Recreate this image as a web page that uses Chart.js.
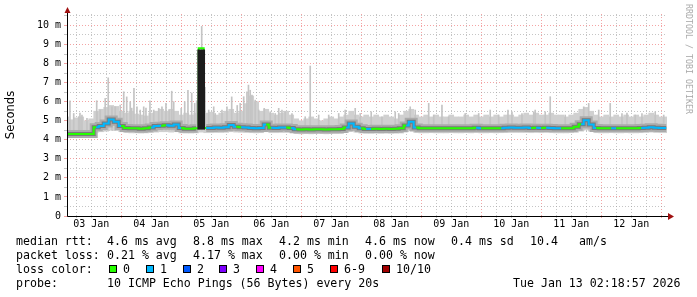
<!DOCTYPE html>
<html>
<head>
<meta charset="utf-8">
<script src="https://cdn.jsdelivr.net/npm/chart.js@4.4.1/dist/chart.umd.min.js"></script>
<style>
  body { margin: 0; background: #fff; }
  #wrap { position: relative; width: 697px; height: 297px; overflow: hidden; }
  .lg { position: absolute; font-family: 'DejaVu Sans Mono', monospace; font-size: 11.6px; line-height: 14px; color: #000; white-space: pre; }
  .box { position: absolute; width: 6px; height: 6px; border: 1px solid #000; }
  #credit { position: absolute; left: 682px; top: 4px; font-family: 'DejaVu Sans Mono', monospace; font-size: 8.3px; color: #aaa; white-space: pre; transform-origin: 0 0; transform: translate(12px, 0) rotate(90deg); }
</style>
</head>
<body>
<div id="wrap">
  <canvas id="chart" width="697" height="297"></canvas>
  <div id="credit">RRDTOOL / TOBI OETIKER</div>

  <div class="lg" style="left:16px;top:234px">median rtt:</div>
  <div class="lg" style="left:107px;top:234px">4.6 ms avg</div>
  <div class="lg" style="left:193px;top:234px">8.8 ms max</div>
  <div class="lg" style="left:279px;top:234px">4.2 ms min</div>
  <div class="lg" style="left:365px;top:234px">4.6 ms now</div>
  <div class="lg" style="left:451px;top:234px">0.4 ms sd</div>
  <div class="lg" style="left:530px;top:234px">10.4</div>
  <div class="lg" style="left:579px;top:234px">am/s</div>

  <div class="lg" style="left:16px;top:248px">packet loss:</div>
  <div class="lg" style="left:107px;top:248px">0.21 % avg</div>
  <div class="lg" style="left:193px;top:248px">4.17 % max</div>
  <div class="lg" style="left:279px;top:248px">0.00 % min</div>
  <div class="lg" style="left:365px;top:248px">0.00 % now</div>

  <div class="lg" style="left:16px;top:262px">loss color:</div>
  <div id="lossLegend"></div>

  <div class="lg" style="left:16px;top:276px">probe:</div>
  <div class="lg" style="left:107px;top:276px">10 ICMP Echo Pings (56 Bytes) every 20s</div>
  <div class="lg" style="left:513px;top:276px">Tue Jan 13 02:18:57 2026</div>
</div>

<script>
// time axis: hours after 03 Jan 00:00, graph covers 03 Jan 02:18:57 .. 13 Jan 02:18:57
const startHour = 2.316;
const endHour = 242.316;
const firstHour = 2;
const stepHours = 2;

const dayLabels = ['03 Jan', '04 Jan', '05 Jan', '06 Jan', '07 Jan', '08 Jan', '09 Jan', '10 Jan', '11 Jan', '12 Jan'];
const yGridMs = [0, 0.5, 1, 1.5, 2, 2.5, 3, 3.5, 4, 4.5, 5, 5.5, 6, 6.5, 7, 7.5, 8, 8.5, 9, 9.5, 10, 10.5];
const yTickLabels = ['0', '1 m', '2 m', '3 m', '4 m', '5 m', '6 m', '7 m', '8 m', '9 m', '10 m'];

// median rtt (ms), one value every 2 hours
const medianMs = [
  4.30, 4.30, 4.30, 4.30, 4.30, 4.30, 4.66, 4.72, 4.86, 5.06,
  4.94, 4.72, 4.62, 4.60, 4.60, 4.58, 4.60, 4.64, 4.72, 4.74,
  4.76, 4.74, 4.80, 4.62, 4.58, 4.58, 4.60, 8.80, 4.62, 4.62,
  4.64, 4.63, 4.66, 4.78, 4.68, 4.66, 4.64, 4.62, 4.60, 4.62,
  4.80, 4.63, 4.62, 4.64, 4.64, 4.62, 4.55, 4.54, 4.55, 4.54,
  4.55, 4.55, 4.54, 4.55, 4.55, 4.56, 4.65, 4.85, 4.68, 4.60,
  4.57, 4.57, 4.58, 4.57, 4.58, 4.57, 4.58, 4.60, 4.75, 4.95,
  4.64, 4.60, 4.60, 4.61, 4.60, 4.60, 4.60, 4.61, 4.60, 4.60,
  4.61, 4.60, 4.63, 4.60, 4.60, 4.61, 4.60, 4.61, 4.63, 4.64,
  4.63, 4.63, 4.64, 4.62, 4.63, 4.62, 4.63, 4.62, 4.60, 4.60,
  4.60, 4.61, 4.68, 4.82, 5.02, 4.80, 4.62, 4.60, 4.60, 4.61,
  4.60, 4.60, 4.61, 4.60, 4.60, 4.62, 4.63, 4.66, 4.63, 4.62,
  4.62
];

// lost pings out of 10 for each median step
const lossCount = [
  0, 0, 0, 0, 0, 0, 1, 1, 1, 1,
  1, 0, 0, 0, 0, 0, 0, 1, 1, 0,
  1, 1, 1, 0, 0, 0, 0, 0, 1, 1,
  1, 1, 1, 1, 0, 1, 1, 1, 1, 1,
  0, 1, 1, 1, 0, 1, 0, 0, 0, 0,
  0, 0, 0, 0, 0, 0, 1, 1, 1, 0,
  1, 0, 0, 0, 0, 0, 0, 0, 1, 1,
  0, 0, 0, 0, 0, 0, 0, 0, 0, 0,
  0, 0, 1, 0, 0, 0, 0, 1, 1, 1,
  1, 1, 1, 0, 1, 0, 1, 1, 1, 0,
  0, 0, 0, 1, 1, 1, 0, 0, 0, 1,
  0, 0, 0, 0, 0, 1, 1, 1, 1, 1,
  1
];

// smoke envelope (ms): lowest and typical highest ping per step
const smokeLoMs = [
  4.12, 4.12, 4.13, 4.12, 4.12, 4.13, 4.40, 4.42, 4.45, 4.50,
  4.48, 4.42, 4.38, 4.36, 4.36, 4.35, 4.36, 4.38, 4.40, 4.42,
  4.42, 4.40, 4.42, 4.36, 4.35, 4.35, 4.36, 4.40, 4.37, 4.37,
  4.38, 4.38, 4.39, 4.42, 4.40, 4.39, 4.38, 4.37, 4.36, 4.37,
  4.42, 4.37, 4.37, 4.38, 4.38, 4.37, 4.32, 4.31, 4.32, 4.31,
  4.32, 4.32, 4.31, 4.32, 4.32, 4.33, 4.38, 4.45, 4.40, 4.35,
  4.33, 4.33, 4.34, 4.33, 4.34, 4.33, 4.34, 4.35, 4.42, 4.50,
  4.38, 4.36, 4.36, 4.37, 4.36, 4.36, 4.36, 4.37, 4.36, 4.36,
  4.37, 4.36, 4.38, 4.36, 4.36, 4.37, 4.36, 4.37, 4.38, 4.38,
  4.38, 4.38, 4.38, 4.37, 4.38, 4.37, 4.38, 4.37, 4.36, 4.36,
  4.36, 4.37, 4.40, 4.45, 4.52, 4.44, 4.37, 4.36, 4.36, 4.37,
  4.36, 4.36, 4.37, 4.36, 4.36, 4.37, 4.38, 4.40, 4.38, 4.37,
  4.37
];
const smokeHiMs = [
  5.20, 5.05, 5.15, 5.20, 5.00, 5.10, 5.50, 5.60, 5.70, 5.80,
  5.75, 5.50, 5.40, 5.50, 5.35, 5.30, 5.25, 5.40, 5.50, 5.60,
  5.50, 5.60, 5.50, 5.30, 5.40, 5.30, 5.40, 6.20, 5.40, 5.45,
  5.30, 5.40, 5.50, 5.60, 5.40, 5.50, 5.90, 6.30, 6.00, 5.50,
  5.60, 5.40, 5.30, 5.40, 5.50, 5.30, 5.10, 5.00, 5.10, 5.20,
  5.10, 5.00, 5.10, 5.20, 5.10, 5.20, 5.30, 5.50, 5.30, 5.20,
  5.30, 5.20, 5.30, 5.20, 5.30, 5.20, 5.10, 5.30, 5.50, 5.60,
  5.30, 5.20, 5.30, 5.20, 5.30, 5.20, 5.20, 5.30, 5.20, 5.20,
  5.30, 5.20, 5.30, 5.20, 5.30, 5.20, 5.30, 5.20, 5.30, 5.30,
  5.20, 5.30, 5.40, 5.30, 5.40, 5.30, 5.30, 5.40, 5.30, 5.30,
  5.20, 5.30, 5.40, 5.60, 5.70, 5.50, 5.30, 5.20, 5.30, 5.20,
  5.30, 5.20, 5.30, 5.20, 5.30, 5.20, 5.30, 5.40, 5.30, 5.20,
  5.20
];

// single slow pings sticking out of the smoke
const spikeHours = [
  3.5, 5.0, 7.0, 7.5, 8.3, 10.3, 14.2, 14.3, 15.6, 17.6, 18.8, 20.3, 21.6, 23.6, 25.0, 26.2,
  27.6, 28.2, 29.1, 30.3, 31.6, 33.0, 33.9, 35.5, 37.0, 39.0, 40.3, 41.9, 43.2, 44.2, 45.0,
  48.0, 49.4, 50.7, 52.2, 53.4, 54.2, 55.0, 56.2, 57.5, 59.0, 61.0, 61.6, 64.3, 66.3, 68.2,
  70.4, 71.6, 73.0, 74.3, 74.9, 75.6, 76.3, 77.6, 79.0, 81.2, 83.6, 85.6, 87.0, 88.3, 89.6,
  92.3, 97.6, 99.6, 103.0, 107.0, 111.0, 113.6, 117.6, 119.6, 124.0, 128.3, 133.6, 135.0,
  139.6, 141.6, 147.0, 149.0, 152.3, 155.0, 161.6, 167.0, 171.6, 175.0, 178.7, 180.3,
  184.3, 189.0, 189.6, 193.6, 195.6, 201.6, 209.0, 211.0, 215.0, 219.6, 224.3, 226.3,
  229.6, 232.3, 237.6, 241.0
];
const spikeMaxMs = [
  6.05, 5.38, 5.21, 5.40, 5.30, 5.12, 6.05, 5.47, 5.56, 6.17, 7.25, 5.73, 5.73, 5.82, 6.52, 6.25,
  6.00, 5.66, 6.70, 5.73, 5.56, 5.73, 5.66, 6.05, 5.56, 5.65, 5.73, 5.91, 5.56, 6.55, 6.00,
  5.65, 6.00, 6.60, 6.45, 5.91, 6.05, 6.26, 9.95, 6.75, 5.56, 5.73, 5.38, 5.56, 5.73, 6.25,
  5.80, 5.91, 6.26, 6.52, 6.87, 6.60, 6.34, 6.08, 5.56, 5.65, 5.47, 5.38, 5.65, 5.56, 5.47,
  5.38, 5.21, 7.87, 5.30, 5.30, 5.38, 5.56, 5.65, 5.38, 5.47, 5.21, 5.47, 5.38,
  5.73, 5.56, 5.91, 5.30, 5.82, 5.21, 5.38, 5.38, 5.56, 5.30, 5.56, 5.47,
  5.38, 5.47, 5.56, 5.47, 6.26, 5.30, 5.73, 5.91, 5.56, 5.91, 5.38, 5.40,
  5.30, 5.38, 5.47, 5.30
];

// dense smoke at the 05 Jan outage (one median step)
const burstHours = [56];
const burstRangeMs = [[4.55, 8.72]];

const lossLabels = ['0', '1', '2', '3', '4', '5', '6-9', '10/10'];
const lossColors = ['#26ff00', '#00b8ff', '#0059ff', '#7e00ff', '#ff00ff', '#ff5500', '#ff0000', '#a10000'];

const MAJOR_GRID = 'rgba(235, 90, 90, 0.55)';
const MINOR_GRID = 'rgba(150, 150, 150, 0.55)';
const MONO = "'DejaVu Sans Mono', monospace";

// loss colour legend row
const lossLegendX = [109, 146, 183, 219, 256, 293, 330, 382];
const lossLegend = document.getElementById('lossLegend');
lossLabels.forEach((label, i) => {
  const box = document.createElement('div');
  box.className = 'box';
  box.style.left = lossLegendX[i] + 'px';
  box.style.top = '265px';
  box.style.background = lossColors[i];
  lossLegend.appendChild(box);
  const txt = document.createElement('div');
  txt.className = 'lg';
  txt.style.left = (lossLegendX[i] + 14) + 'px';
  txt.style.top = '262px';
  txt.textContent = label;
  lossLegend.appendChild(txt);
});

const hours = medianMs.map((_, i) => firstHour + i * stepHours);
const medianPoints = hours.map((h, i) => ({ x: h, y: medianMs[i] }));

// the grey bands around the median are left out where the median jumps (05 Jan burst)
const bandColor = color => c => (Math.abs(c.p1.parsed.y - c.p0.parsed.y) > 2 ? 'rgba(0,0,0,0)' : color);

// axis arrows like rrdtool draws them
const arrowPlugin = {
  id: 'arrows',
  afterDraw(chart) {
    const { ctx, chartArea } = chart;
    const x0 = Math.round(chartArea.left) + 0.5;
    const y0 = Math.round(chartArea.bottom) + 0.5;
    ctx.save();
    ctx.strokeStyle = '#000';
    ctx.lineWidth = 1;
    ctx.beginPath();
    ctx.moveTo(x0, y0);
    ctx.lineTo(x0, 10);
    ctx.moveTo(x0, y0);
    ctx.lineTo(chartArea.right + 2, y0);
    ctx.stroke();
    ctx.fillStyle = '#a01010';
    ctx.beginPath();
    ctx.moveTo(x0 - 3, 13);
    ctx.lineTo(x0 + 3, 13);
    ctx.lineTo(x0, 7);
    ctx.closePath();
    ctx.fill();
    ctx.beginPath();
    ctx.moveTo(chartArea.right + 1, y0 - 3.5);
    ctx.lineTo(chartArea.right + 1, y0 + 3.5);
    ctx.lineTo(chartArea.right + 7, y0);
    ctx.closePath();
    ctx.fill();
    ctx.restore();
  }
};

new Chart(document.getElementById('chart'), {
  type: 'bar',
  data: {
    datasets: [
      {
        data: burstHours.map((h, i) => ({ x: h, y: burstRangeMs[i] })),
        backgroundColor: '#1c1c1c',
        barThickness: 7,
        grouped: false,
        order: 0
      },
      {
        type: 'line',
        data: medianPoints,
        borderWidth: 2,
        stepped: 'middle',
        pointRadius: 0,
        borderColor: lossColors[0],
        segment: { borderColor: c => lossColors[lossCount[c.p0DataIndex]] },
        order: 1
      },
      {
        type: 'line',
        data: medianPoints,
        borderColor: '#7a7a7a',
        borderWidth: 4,
        stepped: 'middle',
        pointRadius: 0,
        segment: { borderColor: bandColor('#7a7a7a') },
        order: 3
      },
      {
        type: 'line',
        data: medianPoints,
        borderColor: '#ababab',
        borderWidth: 8,
        stepped: 'middle',
        pointRadius: 0,
        segment: { borderColor: bandColor('#ababab') },
        order: 4
      },
      {
        data: spikeHours.map((h, i) => ({ x: h, y: [4.5, spikeMaxMs[i]] })),
        backgroundColor: '#c4c4c4',
        barThickness: 1,
        grouped: false,
        order: 5
      },
      {
        data: hours.map((h, i) => ({ x: h, y: [smokeLoMs[i], smokeHiMs[i]] })),
        backgroundColor: '#d0d0d0',
        barThickness: 5,
        grouped: false,
        order: 6
      }
    ]
  },
  options: {
    responsive: false,
    animation: false,
    devicePixelRatio: 1,
    layout: { padding: { left: 0, top: 14, right: 30, bottom: 66 } },
    plugins: { legend: { display: false }, tooltip: { enabled: false } },
    scales: {
      x: {
        type: 'linear',
        min: startHour,
        max: endHour,
        offset: false,
        afterBuildTicks: scale => {
          const ticks = [];
          for (let h = 6; h <= 240; h += 6) ticks.push({ value: h });
          scale.ticks = ticks;
        },
        afterFit: scale => { scale.height = 15; },
        ticks: {
          autoSkip: false,
          maxRotation: 0,
          padding: 0,
          color: '#000',
          font: { family: MONO, size: 10 },
          callback: v => (v % 24 === 12 ? dayLabels[(v - 12) / 24] : '')
        },
        grid: {
          offset: false,
          color: c => (c.tick && c.tick.value % 24 === 0 ? MAJOR_GRID : MINOR_GRID),
          tickLength: 2
        },
        border: { display: false, dash: [1, 2] }
      },
      y: {
        type: 'linear',
        min: 0,
        max: 10.6,
        afterBuildTicks: scale => { scale.ticks = yGridMs.map(v => ({ value: v })); },
        afterFit: scale => { scale.width = 67; },
        ticks: {
          autoSkip: false,
          padding: 3,
          color: '#000',
          font: { family: MONO, size: 10 },
          callback: v => (Number.isInteger(v) ? yTickLabels[v] : '')
        },
        grid: {
          color: c => (c.tick && Number.isInteger(c.tick.value) ? MAJOR_GRID : MINOR_GRID),
          tickLength: 3
        },
        border: { display: false, dash: [1, 2] },
        title: {
          display: true,
          text: 'Seconds',
          color: '#000',
          font: { family: "'DejaVu Sans', sans-serif", size: 11.5 }
        }
      }
    }
  },
  plugins: [arrowPlugin]
});
</script>
</body>
</html>
